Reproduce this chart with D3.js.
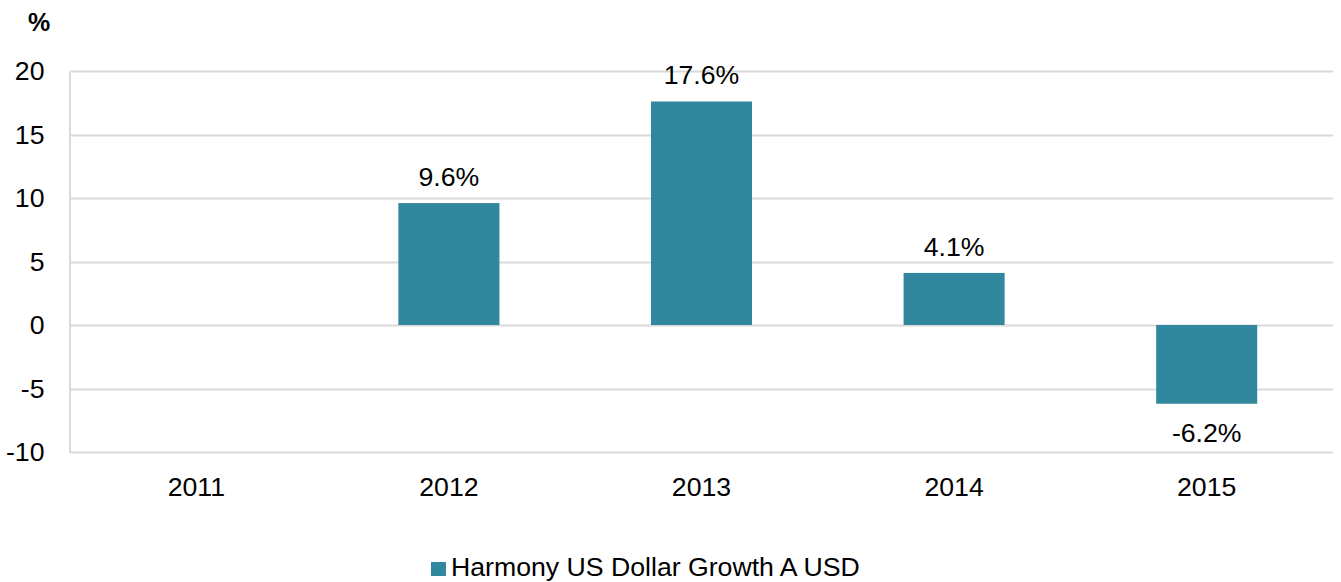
<!DOCTYPE html>
<html><head><meta charset="utf-8">
<script src="https://cdn.jsdelivr.net/npm/d3@7"></script>
<style>body{margin:0;background:#fff;}svg{display:block;font-family:"Liberation Sans",Arial,sans-serif;}</style>
</head><body>
<script>
const categories = ["2011","2012","2013","2014","2015"];
const values = [null, 9.6, 17.6, 4.1, -6.2];
const yTicks = [-10,-5,0,5,10,15,20];
const seriesName = "Harmony US Dollar Growth A USD";
const unitLabel = "%";

const W=1341,H=582,FS=26.67;
const m={left:70,right:8};
const svg=d3.select("body").append("svg").attr("width",W).attr("height",H);
const x=d3.scaleBand().domain(categories).range([m.left,W-m.right]).paddingInner(0.6).paddingOuter(0.3);
const y=d3.scaleLinear().domain([-10,20]).range([452,71]);
const color="#31879e", grid="#d9d9d9";

svg.append("g").selectAll("line").data(yTicks).join("line")
 .attr("x1",m.left).attr("x2",W-m.right).attr("y1",d=>Math.round(y(d))+0.5).attr("y2",d=>Math.round(y(d))+0.5)
 .attr("stroke",grid).attr("stroke-width",2);
const ya=svg.append("g").attr("transform",`translate(${m.left-0.5},0)`).call(d3.axisLeft(y).tickValues(yTicks).tickSize(0).tickPadding(25).tickFormat(d=>String(d)));
ya.select(".domain").attr("stroke",grid).attr("stroke-width",2);
ya.selectAll("text").attr("font-size",FS).attr("fill","#000").attr("font-family","Liberation Sans, Arial, sans-serif");
const xa=svg.append("g").attr("transform",`translate(0,452)`).call(d3.axisBottom(x).tickSize(0).tickPadding(25));
xa.select(".domain").remove();
xa.selectAll("text").attr("font-size",FS).attr("fill","#000").attr("font-family","Liberation Sans, Arial, sans-serif");

const data=categories.map((c,i)=>({c,v:values[i]})).filter(d=>d.v!=null);
svg.append("g").selectAll("rect").data(data).join("rect")
 .attr("x",d=>x(d.c)).attr("width",x.bandwidth())
 .attr("y",d=>y(Math.max(0,d.v))).attr("height",d=>Math.abs(y(d.v)-y(0)))
 .attr("fill",color);
svg.append("g").selectAll("text").data(data).join("text")
 .attr("x",d=>x(d.c)+x.bandwidth()/2)
 .attr("y",d=>d.v>=0?y(d.v)-17:y(d.v)+38)
 .attr("text-anchor","middle").attr("font-size",FS).attr("fill","#000")
 .text(d=>d.v.toFixed(1)+"%");

svg.append("text").attr("x",39).attr("y",31).attr("text-anchor","middle").attr("font-size",25).attr("font-weight","bold").text(unitLabel);

const lg=svg.append("g");
lg.append("rect").attr("x",431).attr("y",562).attr("width",15).attr("height",14).attr("fill",color);
lg.append("text").attr("x",451).attr("y",576).attr("font-size",FS).attr("fill","#000").text(seriesName);
</script>
</body></html>
